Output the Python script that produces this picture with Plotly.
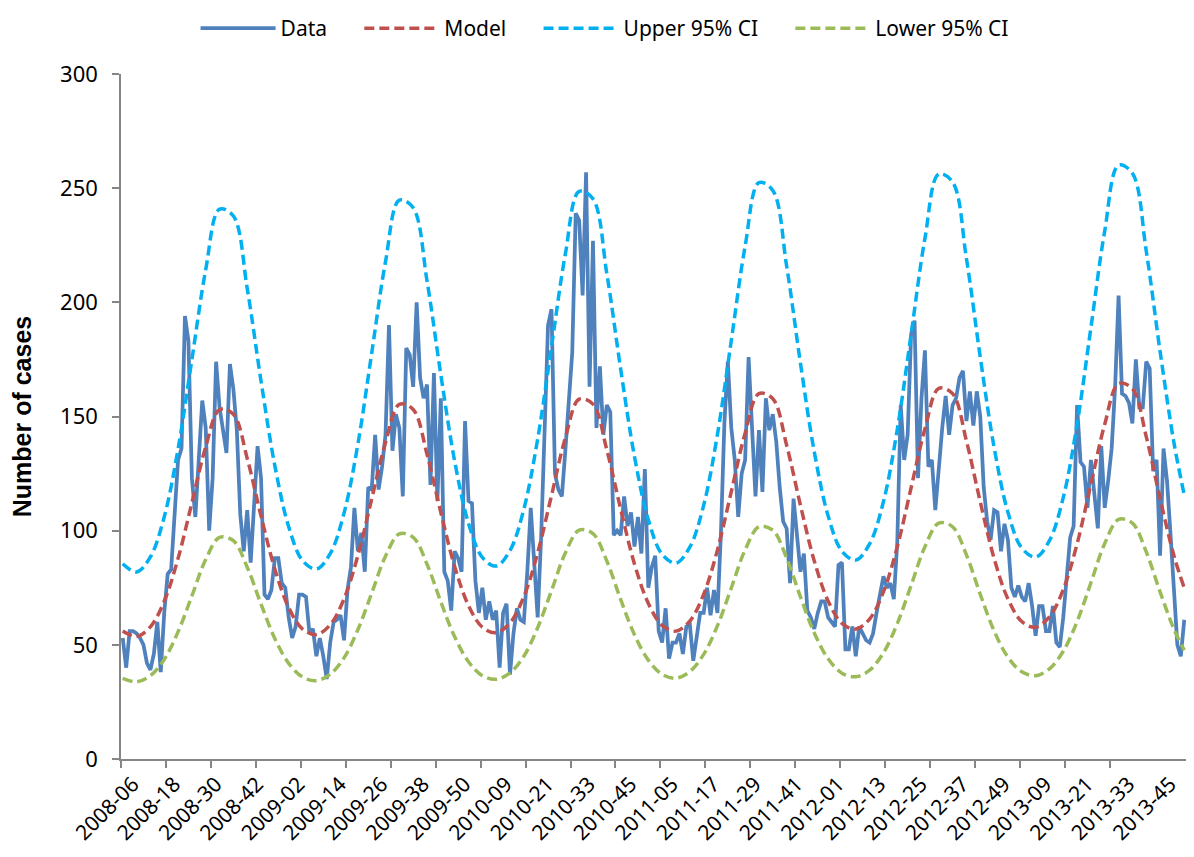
import plotly.graph_objects as go

# ---- week categories (ISO weeks 2008-06 .. 2013-52) ----
year_weeks = [(2008, 6, 52), (2009, 1, 53), (2010, 1, 52), (2011, 1, 52), (2012, 1, 52), (2013, 1, 52)]
weeks = [f"{y}-{w:02d}" for (y, a, b) in year_weeks for w in range(a, b + 1)]

# ---- observed weekly cases ----
data_2008 = [53, 40, 56, 56, 55, 53, 50, 42, 39, 46, 60, 38, 64, 81, 83, 107, 131, 136, 194, 183,
             123, 106, 134, 157, 145, 100, 123, 174, 154, 144, 134, 173, 162, 144, 107, 91, 109, 86, 112, 137,
             123, 72, 70, 74, 88, 88, 77]
data_2009 = [75, 62, 53, 58, 72, 72, 71, 55, 57, 45, 53, 45, 35, 51, 60, 61, 63, 52, 74, 84,
             110, 91, 99, 82, 119, 118, 142, 118, 128, 142, 190, 135, 151, 145, 115, 180, 177, 163, 200, 167,
             158, 164, 120, 169, 113, 158, 82, 78, 65, 91, 88, 82, 148]
data_2010 = [113, 112, 78, 64, 75, 61, 69, 61, 65, 40, 64, 68, 37, 55, 66, 61, 60, 82, 110, 88,
             62, 97, 145, 190, 197, 125, 118, 115, 135, 157, 178, 239, 236, 203, 257, 163, 227, 145, 172, 142,
             155, 152, 98, 100, 98, 115, 102, 108, 93, 106, 90, 127]
data_2011 = [75, 84, 89, 56, 51, 66, 44, 51, 51, 55, 46, 58, 59, 43, 53, 64, 64, 75, 63, 74,
             64, 99, 147, 174, 145, 131, 106, 125, 131, 176, 145, 115, 144, 117, 158, 144, 151, 139, 119, 104,
             101, 77, 114, 99, 82, 90, 65, 62, 57, 64, 69, 69]
data_2012 = [62, 60, 58, 85, 86, 48, 48, 58, 45, 58, 55, 52, 51, 55, 64, 72, 80, 75, 77, 70,
             95, 155, 131, 142, 186, 192, 123, 158, 179, 128, 131, 109, 128, 145, 159, 142, 155, 158, 167, 170,
             148, 161, 146, 161, 150, 119, 104, 96, 109, 108, 91, 103]
data_2013 = [96, 75, 71, 76, 71, 69, 77, 67, 54, 67, 67, 56, 56, 67, 51, 49, 62, 81, 97, 102,
             155, 130, 128, 110, 131, 116, 101, 137, 110, 122, 136, 163, 203, 160, 159, 156, 147, 175, 154, 154,
             174, 171, 126, 131, 89, 136, 122, 99, 74, 50, 45, 61]
cases = data_2008 + data_2009 + data_2010 + data_2011 + data_2012 + data_2013

# ---- model and 95% CI read every 4th week (plus last week) ----
curve_pos = list(range(0, 305, 4)) + [307]
model = [56.1, 53.7, 57.9, 69.1, 87.8, 112.2, 136.7, 153.0, 151.0, 131.6, 106.4, 83.1, 66.3,
         56.9, 54.5, 58.8, 70.1, 89.1, 113.8, 138.6, 155.3, 153.1, 133.5, 107.9, 84.3, 67.2,
         57.7, 55.3, 59.6, 71.1, 90.3, 115.4, 140.6, 157.6, 155.4, 135.4, 109.5, 85.4, 68.2,
         58.5, 56.0, 60.4, 72.1, 91.6, 117.1, 142.7, 160.0, 157.8, 137.4, 111.1, 86.7, 69.2,
         59.4, 56.9, 61.3, 73.2, 92.9, 118.8, 144.6, 162.3, 160.0, 139.3, 112.6, 87.9, 70.1,
         60.2, 57.7, 62.2, 74.2, 94.2, 120.4, 146.6, 164.4, 162.2, 141.2, 114.1, 89.1, 74.9]
upper = [85.5, 81.9, 88.5, 106.0, 135.7, 174.9, 214.3, 240.8, 237.8, 206.1, 165.5, 128.4, 101.7,
         86.9, 83.2, 89.9, 107.7, 137.8, 177.7, 217.8, 244.8, 241.4, 209.4, 168.2, 130.4, 103.2,
         88.3, 84.5, 91.3, 109.4, 140.1, 180.5, 221.1, 248.6, 245.3, 212.6, 170.8, 132.5, 104.8,
         89.6, 85.8, 92.8, 111.1, 142.2, 183.3, 224.6, 252.4, 249.0, 215.9, 173.3, 134.5, 106.5,
         91.0, 87.1, 94.2, 112.7, 144.3, 186.0, 228.0, 256.2, 252.7, 219.2, 176.0, 136.5, 108.1,
         92.4, 88.4, 95.6, 114.5, 146.6, 188.9, 231.3, 260.1, 256.5, 222.5, 178.6, 138.6, 115.6]
lower = [35.3, 33.8, 36.5, 43.6, 55.7, 71.4, 87.4, 97.1, 95.6, 84.0, 67.8, 52.7, 41.9,
         35.9, 34.3, 37.1, 44.3, 56.6, 72.6, 88.8, 98.6, 97.1, 85.3, 68.8, 53.5, 42.6,
         36.5, 34.9, 37.7, 45.0, 57.5, 73.7, 90.2, 100.2, 98.7, 86.7, 69.9, 54.4, 43.3,
         37.1, 35.4, 38.3, 45.8, 58.4, 74.9, 91.6, 101.7, 100.2, 88.0, 71.0, 55.2, 43.9,
         37.6, 36.0, 38.9, 46.5, 59.3, 76.0, 93.0, 103.3, 101.7, 89.4, 72.1, 56.1, 44.6,
         38.2, 36.5, 39.5, 47.2, 60.2, 77.2, 94.4, 104.9, 103.3, 90.7, 73.2, 56.9, 47.6]

# ---- axis labels ----
label_every = 12
tick_every = 13
tick_pos = list(range(0, len(weeks), label_every))
tick_text = [weeks[i] for i in tick_pos]
minor_pos = [k - 0.5 for k in range(0, len(weeks) - tick_every + 1, tick_every)]

x_all = list(range(len(weeks)))
gray = "#868686"
pad = "\u00a0" * 5

fig = go.Figure()
fig.add_trace(go.Scatter(x=x_all, y=cases, name="Data" + pad, mode="lines",
                         line=dict(color="#4F81BD", width=3.75), customdata=weeks))
fig.add_trace(go.Scatter(x=curve_pos, y=model, name="Model" + pad, mode="lines",
                         line=dict(color="#C0504D", width=3.5, dash="10px,5px", shape="spline")))
fig.add_trace(go.Scatter(x=curve_pos, y=upper, name="Upper 95% CI" + pad, mode="lines",
                         line=dict(color="#00B0F0", width=3.5, dash="10px,5px", shape="spline")))
fig.add_trace(go.Scatter(x=curve_pos, y=lower, name="Lower 95% CI", mode="lines",
                         line=dict(color="#9BBB59", width=3.5, dash="10px,5px", shape="spline")))

# page body has an 8px default margin, so the figure is 16px smaller than the window
fig.update_layout(
    width=1178, height=841,
    margin=dict(l=113, r=0, t=64, b=90),
    paper_bgcolor="white", plot_bgcolor="white",
    showlegend=True,
    legend=dict(orientation="h", x=0.07, xanchor="left", y=1.067, yanchor="middle",
                font=dict(family="Noto Sans", size=21, color="#000000"),
                itemwidth=75, bgcolor="rgba(0,0,0,0)", borderwidth=0),
    xaxis=dict(range=[-0.5, len(weeks) - 0.5], showgrid=False, zeroline=False,
               automargin=False,
               showline=True, linecolor=gray, linewidth=1.5,
               tickmode="array", tickvals=tick_pos, ticktext=tick_text, tickangle=-45,
               ticks="", tickfont=dict(family="Noto Sans", size=21, color="#000000"),
               ticklabelstandoff=3, ticklabelshift=10,
               minor=dict(tickmode="array", tickvals=minor_pos, ticks="outside",
                          ticklen=7, tickwidth=1.5, tickcolor=gray, showgrid=False)),
    yaxis=dict(range=[0, 300], dtick=50, tick0=0, showgrid=False, zeroline=False,
               automargin=False,
               showline=True, linecolor=gray, linewidth=1.5,
               ticks="outside", ticklen=7, tickwidth=1.5, tickcolor=gray,
               tickfont=dict(family="Noto Sans", size=22, color="#000000"), ticklabelstandoff=10,
               title=dict(text="<b>Number of cases</b>", standoff=33,
                          font=dict(family="Liberation Sans", size=25, color="#000000"))),
)

fig.write_html("out.html")
